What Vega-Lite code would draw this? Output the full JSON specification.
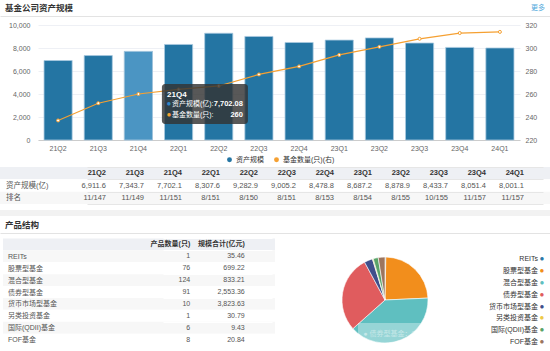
{
  "$schema": "https://vega.github.io/schema/vega-lite/v6.json",
  "padding": 0,
  "background": "#ffffff",
  "spacing": 0,
  "bounds": "flush",
  "resolve": {"scale": {"color": "independent"}},
  "config": {
    "view": {"stroke": null},
    "font": "Liberation Sans, Noto Sans CJK SC, sans-serif"
  },
  "datasets": {
    "quarters": [
      {"q": "21Q2", "assets": 6911.6, "rank": "11/147", "count": 237},
      {"q": "21Q3", "assets": 7343.7, "rank": "11/149", "count": 252},
      {"q": "21Q4", "assets": 7702.08, "rank": "11/151", "count": 260},
      {"q": "22Q1", "assets": 8307.6, "rank": "8/151", "count": 264},
      {"q": "22Q2", "assets": 9282.9, "rank": "8/150", "count": 267},
      {"q": "22Q3", "assets": 9005.2, "rank": "8/151", "count": 277},
      {"q": "22Q4", "assets": 8478.8, "rank": "8/153", "count": 284},
      {"q": "23Q1", "assets": 8687.2, "rank": "8/154", "count": 294},
      {"q": "23Q2", "assets": 8878.9, "rank": "8/155", "count": 301},
      {"q": "23Q3", "assets": 8433.7, "rank": "10/155", "count": 308},
      {"q": "23Q4", "assets": 8051.4, "rank": "11/157", "count": 313},
      {"q": "24Q1", "assets": 8001.1, "rank": "11/157", "count": 314}
    ],
    "products": [
      {"type": "REITs", "n": 1, "size": 35.46, "i": 1},
      {"type": "股票型基金", "n": 76, "size": 699.22, "i": 2},
      {"type": "混合型基金", "n": 124, "size": 833.21, "i": 3},
      {"type": "债券型基金", "n": 91, "size": 2553.36, "i": 4},
      {"type": "货币市场型基金", "n": 10, "size": 3823.63, "i": 5},
      {"type": "另类投资基金", "n": 1, "size": 30.79, "i": 6},
      {"type": "国际(QDII)基金", "n": 6, "size": 9.43, "i": 7},
      {"type": "FOF基金", "n": 8, "size": 20.84, "i": 8}
    ]
  },
  "vconcat": [
    {
      "width": 550, "height": 16,
      "data": {"values": [{"side": "left", "t": "基金公司资产规模"}, {"side": "right", "t": "更多"}]},
      "encoding": {"x": {"field": "side", "type": "nominal", "scale": {"type": "point", "padding": 0, "domain": ["left", "right"]}, "axis": {"labels": false, "ticks": false, "title": null, "grid": false, "domainColor": "#e3e3e3"}}},
      "layer": [
        {"transform": [{"filter": "datum.side === 'left'"}], "mark": {"type": "text", "align": "left", "dx": 5, "fontSize": 8.5, "fontWeight": "bold", "color": "#333333"}, "encoding": {"text": {"field": "t"}}},
        {"transform": [{"filter": "datum.side === 'right'"}], "mark": {"type": "text", "align": "right", "dx": -5, "fontSize": 7, "color": "#4fa9dc"}, "encoding": {"text": {"field": "t"}}}
      ]
    },
    {
      "width": 550, "height": 124,
      "data": {"name": "quarters"},
      "encoding": {"x": {"field": "q", "type": "nominal", "sort": null,
        "scale": {"domain": ["21Q2","21Q3","21Q4","22Q1","22Q2","22Q3","22Q4","23Q1","23Q2","23Q3","23Q4","24Q1"], "range": [38, 520], "paddingInner": 0.3, "paddingOuter": 0.15},
        "axis": {"title": null, "labelAngle": 0, "labelFontSize": 7, "labelColor": "#666666", "ticks": false, "tickSize": 0, "labelPadding": 4, "domainColor": "#cccccc", "grid": false}}},
      "layer": [
        {
          "encoding": {"y": {"field": "assets", "type": "quantitative", "scale": {"domain": [0, 10783], "nice": false},
            "axis": {"title": null, "offset": -38, "values": [0, 2000, 4000, 6000, 8000, 10000], "format": ",d", "labelFontSize": 7, "labelColor": "#666666", "ticks": false, "tickSize": 0, "domain": false, "labelPadding": 8, "grid": true, "gridColor": "#eef0f5"}}},
          "layer": [
            {"transform": [{"filter": "datum.q === '21Q4'"}], "mark": {"type": "bar", "color": "#f3f5fa", "width": {"band": 1.4286}}, "encoding": {"y": {"datum": 10000}}},
            {"mark": {"type": "bar", "stroke": "#a9c9df", "strokeWidth": 0.8},
              "encoding": {"color": {"datum": "资产规模", "type": "nominal",
                "scale": {"domain": ["资产规模", "基金数量(只)(右)"], "range": ["#2475a3", "#f5a032"]},
                "legend": {"orient": "none", "direction": "horizontal", "legendX": 226, "legendY": 140, "title": null, "symbolType": "circle", "symbolSize": 24, "symbolStrokeWidth": 0, "labelFontSize": 7, "labelColor": "#333333", "labelOffset": 3, "columnPadding": 9}}}},
            {"transform": [{"filter": "datum.q === '21Q4'"}], "mark": {"type": "bar", "color": "#4b95c3", "stroke": "#a9c9df", "strokeWidth": 0.8}}
          ]
        },
        {
          "encoding": {"y": {"field": "count", "type": "quantitative", "scale": {"domain": [220, 327.83], "nice": false, "zero": false},
            "axis": {"orient": "right", "offset": -30, "title": null, "values": [220, 240, 260, 280, 300, 320], "labelFontSize": 7, "labelColor": "#666666", "ticks": false, "tickSize": 0, "domain": false, "labelPadding": 5, "grid": false}}},
          "layer": [
            {"mark": {"type": "line", "color": "#f5a032", "strokeWidth": 1.2}},
            {"mark": {"type": "point", "filled": false, "fill": "#ffffff", "color": "#f5a032", "size": 9, "strokeWidth": 1, "opacity": 1}}
          ]
        },
        {
          "transform": [{"filter": "datum.q === '21Q4'"}],
          "encoding": {"y": {"field": "assets", "type": "quantitative", "scale": {"domain": [0, 10783], "nice": false}, "axis": null}},
          "layer": [
            {"mark": {"type": "bar", "width": 86, "xOffset": 66.5, "yOffset": 32.6, "y2Offset": 72.6, "color": "#333333", "opacity": 0.82, "cornerRadius": 3}, "encoding": {"y2": {"field": "assets"}}},
            {"mark": {"type": "text", "align": "left", "dx": 28.6, "dy": 43.6, "color": "#ffffff", "fontSize": 8, "fontWeight": "bold"}, "encoding": {"text": {"field": "q"}}},
            {"mark": {"type": "text", "align": "center", "dx": 30.5, "dy": 52.6, "color": "#2f86c8", "fontSize": 8}, "encoding": {"text": {"value": "●"}}},
            {"mark": {"type": "text", "align": "left", "dx": 33.5, "dy": 52.6, "color": "#ffffff", "fontSize": 7}, "encoding": {"text": {"value": "资产规模(亿):"}}},
            {"mark": {"type": "text", "align": "right", "dx": 104.5, "dy": 52.6, "color": "#ffffff", "fontSize": 7.5, "fontWeight": "bold"}, "encoding": {"text": {"field": "assets", "format": ",.2f"}}},
            {"mark": {"type": "text", "align": "center", "dx": 30.5, "dy": 63.6, "color": "#f5a032", "fontSize": 8}, "encoding": {"text": {"value": "●"}}},
            {"mark": {"type": "text", "align": "left", "dx": 33.5, "dy": 63.6, "color": "#ffffff", "fontSize": 7}, "encoding": {"text": {"value": "基金数量(只):"}}},
            {"mark": {"type": "text", "align": "right", "dx": 104.5, "dy": 63.6, "color": "#ffffff", "fontSize": 7.5, "fontWeight": "bold"}, "encoding": {"text": {"field": "count"}}}
          ]
        }
      ],
      "resolve": {"scale": {"y": "independent"}}
    },
    {"width": 550, "height": 27, "data": {"values": []}, "mark": "point", "encoding": {}},
    {
      "width": 550, "height": 37,
      "encoding": {"y": {"field": "row", "type": "nominal", "sort": null,
        "scale": {"type": "band", "domain": ["hdr", "资产规模(亿)", "排名"], "paddingInner": 0, "paddingOuter": 0},
        "axis": {"title": null, "orient": "left", "labelAlign": "left", "labelPadding": -5.5, "ticks": false, "tickSize": 0, "domain": false, "labelFontSize": 7.5, "labelColor": "#555555", "labelExpr": "datum.value === 'hdr' ? '' : datum.value", "grid": true, "gridColor": "#e6e6e6", "tickBand": "extent"}}},
      "layer": [
        {"data": {"values": [{"row": "hdr"}, {"row": "资产规模(亿)"}, {"row": "排名"}]},
          "mark": {"type": "rect"},
          "encoding": {"color": {"field": "row", "type": "nominal", "scale": {"domain": ["hdr", "资产规模(亿)", "排名"], "range": ["#eef0f4", "#ffffff", "#f7f7f7"]}, "legend": null}}},
        {"data": {"name": "quarters"}, "mark": {"type": "text", "align": "right", "fontSize": 7.5, "fontWeight": "bold", "color": "#333333"},
          "encoding": {"x": {"field": "q", "type": "nominal", "sort": null, "scale": {"type": "point", "domain": ["21Q2","21Q3","21Q4","22Q1","22Q2","22Q3","22Q4","23Q1","23Q2","23Q3","23Q4","24Q1"], "range": [87, 543]}, "axis": null},
            "y": {"datum": "hdr"}, "text": {"field": "q"}}},
        {"data": {"name": "quarters"}, "mark": {"type": "text", "align": "right", "fontSize": 7.5, "color": "#555555"},
          "encoding": {"x": {"field": "q", "type": "nominal", "sort": null, "axis": null},
            "y": {"datum": "资产规模(亿)"}, "text": {"field": "assets", "format": ",.1f"}}},
        {"data": {"name": "quarters"}, "mark": {"type": "text", "align": "right", "fontSize": 7.5, "color": "#555555"},
          "encoding": {"x": {"field": "q", "type": "nominal", "sort": null, "axis": null},
            "y": {"datum": "排名"}, "text": {"field": "rank"}}}
      ]
    },
    {"width": 550, "height": 6, "data": {"values": []}, "mark": "point", "encoding": {}},
    {"width": 550, "height": 6, "data": {"values": []}, "mark": "point", "encoding": {}, "view": {"fill": "#f2f2f2", "stroke": null}},
    {
      "width": 550, "height": 17,
      "data": {"values": [{"side": "left", "t": "产品结构"}]},
      "encoding": {
        "x": {"field": "side", "type": "nominal", "scale": {"type": "point", "padding": 0, "domain": ["left", "right"]}, "axis": {"labels": false, "ticks": false, "title": null, "grid": false, "domainColor": "#e3e3e3"}},
        "text": {"field": "t"}
      },
      "mark": {"type": "text", "align": "left", "dx": 5, "fontSize": 8.5, "fontWeight": "bold", "color": "#333333"}
    },
    {
      "spacing": 0, "bounds": "flush",
      "resolve": {"scale": {"color": "independent"}},
      "hconcat": [
        {"width": 3, "height": 118, "data": {"values": []}, "mark": "point", "encoding": {}},
        {
          "width": 272, "height": 118,
          "encoding": {"y": {"field": "type", "type": "nominal", "sort": null,
            "scale": {"type": "band", "domain": ["hdr", "REITs", "股票型基金", "混合型基金", "债券型基金", "货币市场型基金", "另类投资基金", "国际(QDII)基金", "FOF基金"], "paddingInner": 0, "paddingOuter": 0.46},
            "axis": {"title": null, "orient": "left", "labelAlign": "left", "labelPadding": -4.5, "ticks": false, "tickSize": 0, "domain": false, "labelFontSize": 7, "labelColor": "#555555", "labelExpr": "datum.value === 'hdr' ? '' : datum.value", "grid": true, "gridColor": "#ffffff", "tickBand": "extent"}}},
          "layer": [
            {"data": {"values": [{"type": "hdr", "k": "h"}, {"type": "REITs", "k": "a"}, {"type": "股票型基金", "k": "b"}, {"type": "混合型基金", "k": "a"}, {"type": "债券型基金", "k": "b"}, {"type": "货币市场型基金", "k": "a"}, {"type": "另类投资基金", "k": "b"}, {"type": "国际(QDII)基金", "k": "a"}, {"type": "FOF基金", "k": "b"}]},
              "mark": {"type": "rect"},
              "encoding": {"color": {"field": "k", "type": "nominal", "scale": {"domain": ["h", "a", "b"], "range": ["#eef0f4", "#f7f7f7", "#ffffff"]}, "legend": null}}},
            {"data": {"values": [{"col": "产品数量(只)"}, {"col": "规模合计(亿元)"}]},
              "mark": {"type": "text", "align": "right", "fontSize": 7, "fontWeight": "bold", "color": "#333333"},
              "encoding": {"x": {"field": "col", "type": "nominal", "sort": null, "scale": {"type": "point", "domain": ["产品数量(只)", "规模合计(亿元)"], "range": [160, 269]}, "axis": null},
                "y": {"datum": "hdr"}, "text": {"field": "col"}}},
            {"data": {"name": "products"}, "mark": {"type": "text", "align": "right", "fontSize": 7, "color": "#555555"},
              "encoding": {"x": {"datum": "产品数量(只)"}, "text": {"field": "n"}}},
            {"data": {"name": "products"}, "mark": {"type": "text", "align": "right", "fontSize": 7, "color": "#555555"},
              "encoding": {"x": {"datum": "规模合计(亿元)"}, "text": {"field": "size", "format": ",.2f"}}}
          ]
        },
        {
          "width": 220, "height": 118,
          "data": {"name": "products"},
          "layer": [
            {
              "mark": {"type": "arc", "outerRadius": 43, "stroke": "#ffffff", "strokeWidth": 0.6, "yOffset": 8},
              "encoding": {
                "theta": {"field": "n", "type": "quantitative", "stack": true},
                "order": {"field": "i", "type": "quantitative"},
                "color": {"field": "type", "type": "nominal", "sort": null,
                  "scale": {"domain": ["REITs", "股票型基金", "混合型基金", "债券型基金", "货币市场型基金", "另类投资基金", "国际(QDII)基金", "FOF基金"],
                    "range": ["#2a78a8", "#f28e1c", "#5fbfc0", "#e05c5e", "#3f4f8c", "#edc948", "#5aa469", "#9c755f"]}, "legend": null}
              }
            },
            {
              "transform": [{"filter": "datum.type === '债券型基金'"}],
              "mark": {"type": "point", "shape": "M-1,-0.2115H1V0.2115H-1Z", "size": 10816, "filled": true, "color": "#ffffff", "opacity": 0.35, "strokeWidth": 0, "xOffset": 25, "yOffset": 42}
            },
            {
              "transform": [{"filter": "datum.type === '债券型基金'"}],
              "mark": {"type": "text", "align": "center", "dx": 25, "dy": 42, "fontSize": 7, "color": "#ffffff", "opacity": 0.45},
              "encoding": {"text": {"value": "● 债券型基金：91只 (28.71%)"}}
            }
          ]
        },
        {
          "width": 55, "height": 118,
          "data": {"name": "products"},
          "encoding": {"y": {"field": "type", "type": "nominal", "sort": null,
            "scale": {"type": "band", "domain": ["REITs", "股票型基金", "混合型基金", "债券型基金", "货币市场型基金", "另类投资基金", "国际(QDII)基金", "FOF基金"], "paddingInner": 0, "paddingOuter": 1.043, "align": 0.87}, "axis": null}},
          "layer": [
            {"mark": {"type": "text", "align": "right", "dx": 15.5, "fontSize": 7, "color": "#333333"}, "encoding": {"text": {"field": "type"}}},
            {"mark": {"type": "text", "align": "center", "dx": 19.5, "fontSize": 8}, "encoding": {"text": {"value": "●"},
              "color": {"field": "type", "type": "nominal", "sort": null,
                "scale": {"domain": ["REITs", "股票型基金", "混合型基金", "债券型基金", "货币市场型基金", "另类投资基金", "国际(QDII)基金", "FOF基金"],
                  "range": ["#2a78a8", "#f28e1c", "#5fbfc0", "#e05c5e", "#3f4f8c", "#edc948", "#5aa469", "#9c755f"]}, "legend": null}}}
          ]
        }
      ]
    }
  ]
}
